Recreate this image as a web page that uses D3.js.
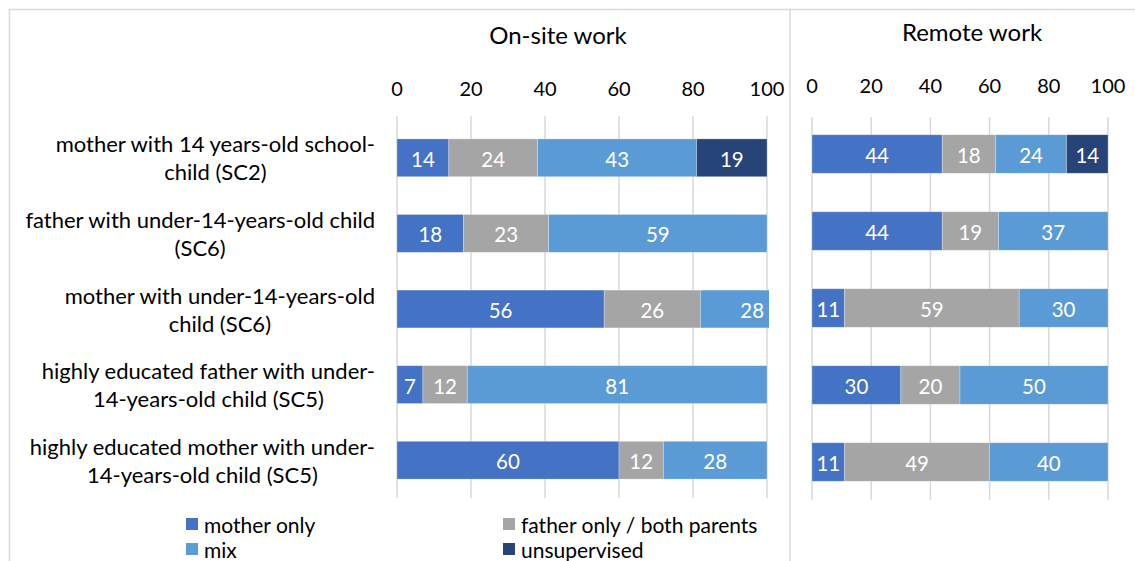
<!DOCTYPE html>
<html>
<head>
<meta charset="utf-8">
<script src="https://cdn.jsdelivr.net/npm/d3@7"></script>
<style>
  body { margin: 0; background: #fff; }
  svg { font-family: Lato, "Open Sans", sans-serif; }
  .tick-label { font-size: 20px; fill: #000; }
  .cat-label { font-size: 22px; fill: #000; }
  .panel-title { font-size: 24px; fill: #000; }
  .bar-label { font-size: 20.5px; fill: #fff; }
  .legend-text { font-size: 21px; fill: #000; }
</style>
</head>
<body>
<svg id="chart"></svg>
<script>
// categories (top to bottom)
const categories = [
  ['mother with 14 years-old school-', 'child (SC2)'],
  ['father with under-14-years-old child', '(SC6)'],
  ['mother with under-14-years-old', 'child (SC6)'],
  ['highly educated father with under-', '14-years-old child (SC5)'],
  ['highly educated mother with under-', '14-years-old child (SC5)']
];

const seriesNames = ['mother only', 'father only / both parents', 'mix', 'unsupervised'];
const seriesColors = ['#4472C4', '#A5A5A5', '#5B9BD5', '#264478'];

// values per category: [mother only, father/both, mix, unsupervised]
const onsiteValues = [
  [14, 24, 43, 19],
  [18, 23, 59, 0],
  [56, 26, 28, 0],
  [7, 12, 81, 0],
  [60, 12, 28, 0]
];
const remoteValues = [
  [44, 18, 24, 14],
  [44, 19, 37, 0],
  [11, 59, 30, 0],
  [30, 20, 50, 0],
  [11, 49, 40, 0]
];

const xTicks = [0, 20, 40, 60, 80, 100];

const width = 1135, height = 561;
const svg = d3.select('#chart').attr('width', width).attr('height', height);

// outer frame (chart borders)
svg.append('path')
  .attr('d', `M9.5,${height} V9.5 H${width}`)
  .attr('fill', 'none').attr('stroke', '#d9d9d9').attr('stroke-width', 1.5);
svg.append('line')
  .attr('x1', 790).attr('x2', 790).attr('y1', 9.5).attr('y2', height)
  .attr('stroke', '#d9d9d9').attr('stroke-width', 1.5);

function drawPanel(cfg) {
  const x = d3.scaleLinear().domain([0, 100]).range([cfg.x0, cfg.x1]);
  const y = d3.scaleBand().domain(d3.range(categories.length))
    .range([cfg.yTop, cfg.yBottom]).paddingInner(0.5).paddingOuter(0.25);

  const g = svg.append('g');

  // plot area clip (bars running past 100 are cut, as in the source)
  const clipId = 'clip-' + cfg.id;
  svg.append('clipPath').attr('id', clipId)
    .append('rect')
    .attr('x', cfg.x0).attr('y', 0)
    .attr('width', cfg.x1 - cfg.x0 + 2).attr('height', height);

  // gridlines
  g.selectAll('.grid').data(xTicks).join('line')
    .attr('x1', d => x(d)).attr('x2', d => x(d))
    .attr('y1', cfg.gridTop).attr('y2', cfg.gridBottom)
    .attr('stroke', '#d9d9d9').attr('stroke-width', 1.5);

  // tick labels
  g.selectAll('.tick-label').data(xTicks).join('text')
    .attr('class', 'tick-label')
    .attr('x', d => x(d)).attr('y', cfg.tickY)
    .attr('text-anchor', 'middle').attr('dominant-baseline', 'central')
    .text(d => d);

  // title
  g.append('text').attr('class', 'panel-title')
    .attr('x', cfg.titleX).attr('y', cfg.titleY)
    .attr('text-anchor', 'middle').attr('dominant-baseline', 'central')
    .text(cfg.title);

  // stacked segments
  const segs = [];
  cfg.values.forEach((row, i) => {
    let acc = 0;
    row.forEach((v, s) => {
      if (v > 0) segs.push({ i, s, v, start: acc, end: acc + v });
      acc += v;
    });
  });

  const barG = g.append('g').attr('clip-path', `url(#${clipId})`);
  barG.selectAll('rect').data(segs).join('rect')
    .attr('x', d => x(d.start))
    .attr('y', d => y(d.i))
    .attr('width', d => x(d.end) - x(d.start))
    .attr('height', y.bandwidth())
    .attr('fill', d => seriesColors[d.s])
    .attr('stroke', '#fff').attr('stroke-opacity', 0.35).attr('stroke-width', 0.75);

  g.selectAll('.bar-label').data(segs).join('text')
    .attr('class', 'bar-label')
    .attr('x', d => x((d.start + d.end) / 2))
    .attr('y', d => y(d.i) + y.bandwidth() / 2 + 1)
    .attr('text-anchor', 'middle').attr('dominant-baseline', 'central')
    .text(d => d.v);

  return y;
}

const yLeft = drawPanel({
  id: 'onsite', title: 'On-site work', values: onsiteValues,
  x0: 397, x1: 767, yTop: 120, yBottom: 498, gridTop: 116, gridBottom: 498,
  tickY: 88, titleX: 558, titleY: 34
});

drawPanel({
  id: 'remote', title: 'Remote work', values: remoteValues,
  x0: 812, x1: 1108, yTop: 115.5, yBottom: 500.5, gridTop: 117, gridBottom: 500,
  tickY: 85, titleX: 972, titleY: 31
});

// category labels: lines centred on each other, block right-aligned at 375
const catG = svg.append('g');
categories.forEach((lines, i) => {
  const cy = yLeft(i) + yLeft.bandwidth() / 2;
  const t = catG.append('text').attr('class', 'cat-label');
  const tspans = lines.map((ln, k) => t.append('tspan')
    .attr('y', cy + (k - (lines.length - 1) / 2) * 28)
    .attr('dominant-baseline', 'central')
    .attr('text-anchor', 'middle')
    .text(ln));
  const maxW = d3.max(tspans, ts => ts.node().getComputedTextLength());
  tspans.forEach(ts => ts.attr('x', 375 - maxW / 2));
});

// legend
const legendPos = [
  { x: 186, y: 524 }, { x: 503, y: 524 },
  { x: 186, y: 549 }, { x: 503, y: 549 }
];
const leg = svg.append('g').selectAll('g').data(seriesNames).join('g')
  .attr('transform', (d, i) => `translate(${legendPos[i].x},${legendPos[i].y})`);
leg.append('rect').attr('x', 0).attr('y', -6).attr('width', 12).attr('height', 12)
  .attr('fill', (d, i) => seriesColors[i]);
leg.append('text').attr('class', 'legend-text')
  .attr('x', 18).attr('y', 0).attr('dominant-baseline', 'central')
  .text(d => d);
</script>
</body>
</html>
